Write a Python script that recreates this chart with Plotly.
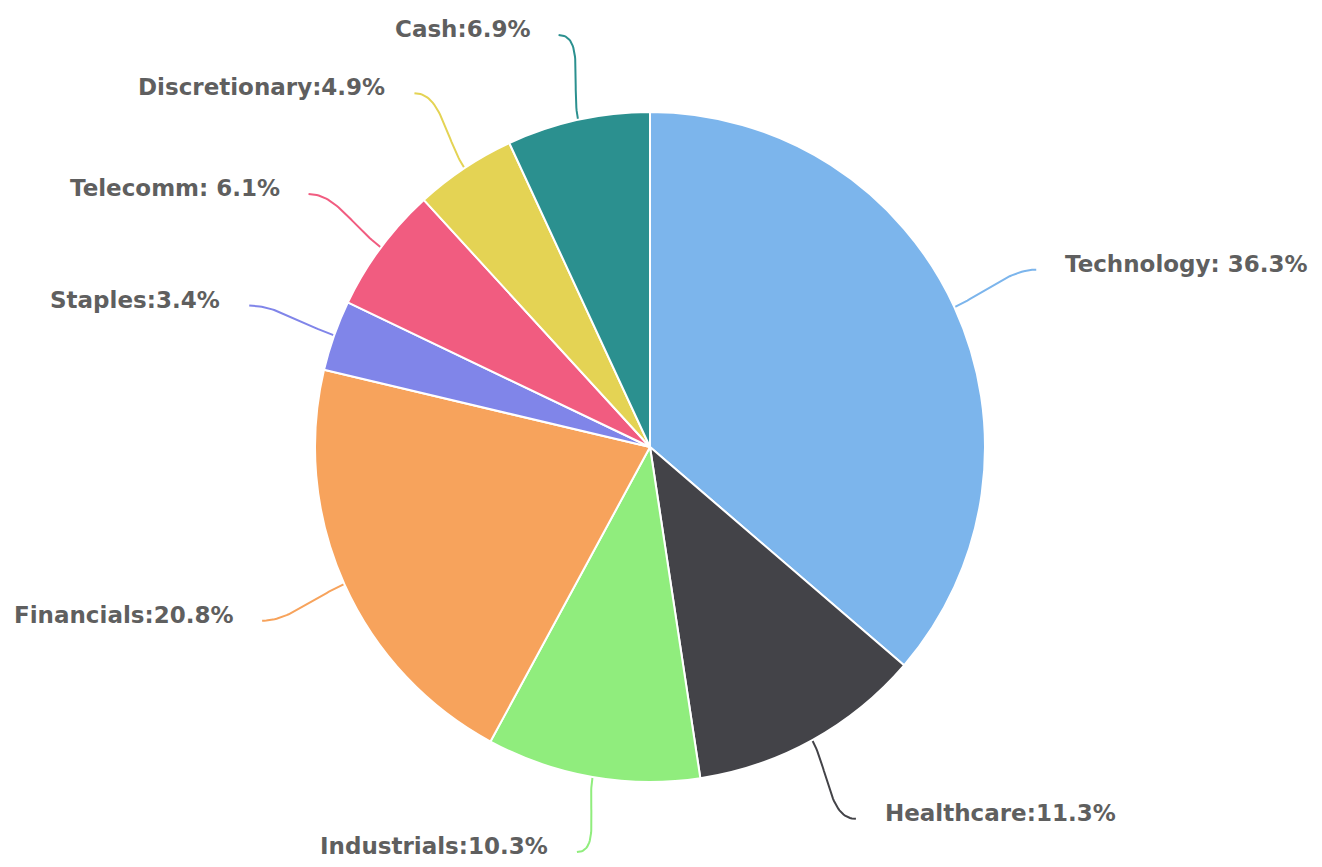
import numpy as np
import plotly.graph_objects as go

# slice data, clockwise from 12 o'clock
sectors = ["Technology", "Healthcare", "Industrials", "Financials",
           "Staples", "Telecomm", "Discretionary", "Cash"]
shares = [36.3, 11.3, 10.3, 20.8, 3.4, 6.1, 4.9, 6.9]
label_texts = ["Technology: 36.3%", "Healthcare:11.3%", "Industrials:10.3%",
               "Financials:20.8%", "Staples:3.4%", "Telecomm: 6.1%",
               "Discretionary:4.9%", "Cash:6.9%"]
colors = ["#7cb5ec", "#434348", "#90ed7d", "#f7a35c",
          "#8085e9", "#f15c80", "#e4d354", "#2b908f"]

W, H = 1322, 867
cx, cy, r = 650, 447, 335      # pie centre / radius in pixels
r_label = 425                  # where connectors end

fig = go.Figure()

fig.add_trace(go.Pie(
    labels=sectors, values=shares, sort=False, direction="clockwise",
    rotation=0, marker=dict(colors=colors, line=dict(color="white", width=2)),
    textinfo="none", hoverinfo="label+percent", showlegend=False,
    domain=dict(x=[(cx - r) / W, (cx + r) / W], y=[1 - (cy + r) / H, 1 - (cy - r) / H]),
))

# connectors + labels, placed from each slice's mid angle
vals = np.array(shares, dtype=float)
mids = (np.cumsum(vals) - vals / 2) / vals.sum() * 2 * np.pi
annotations = []
for name, txt, col, a in zip(sectors, label_texts, colors, mids):
    dx, dy = np.sin(a), -np.cos(a)
    side = 1 if dx >= 0 else -1
    x0, y0 = cx + (r - 2) * dx, cy + (r - 2) * dy
    x3, y3 = cx + r_label * dx, cy + r_label * dy
    y3 = min(max(y3, 35), 852)
    dist = np.hypot(x3 - x0, y3 - y0)
    # cubic: heads roughly straight for the label, bends flat at the end
    x1, y1 = x0 + 0.2 * dist * dx + 0.2 * (x3 - x0), y0 + 0.2 * dist * dy + 0.2 * (y3 - y0)
    x2, y2 = x3 - side * 0.3 * dist, y3
    s = np.linspace(0, 1, 40)
    bx = (1 - s) ** 3 * x0 + 3 * (1 - s) ** 2 * s * x1 + 3 * (1 - s) * s ** 2 * x2 + s ** 3 * x3
    by = (1 - s) ** 3 * y0 + 3 * (1 - s) ** 2 * s * y1 + 3 * (1 - s) * s ** 2 * y2 + s ** 3 * y3
    fig.add_trace(go.Scatter(x=bx, y=by, mode="lines", line=dict(color=col, width=2),
                             hoverinfo="skip", showlegend=False))
    annotations.append(dict(
        x=x3 + side * 27, y=y3 - 6, xref="x", yref="y",
        text=txt, showarrow=False, xanchor="left" if side > 0 else "right", yanchor="middle",
        font=dict(family="DejaVu Sans", size=23, color="#5f5f5f", weight="bold"),
    ))

fig.update_layout(
    width=W, height=H, margin=dict(l=0, r=0, t=0, b=0),
    paper_bgcolor="white", plot_bgcolor="rgba(0,0,0,0)",
    xaxis=dict(range=[0, W], visible=False, fixedrange=True),
    yaxis=dict(range=[H, 0], visible=False, fixedrange=True),
    annotations=annotations,
)

fig.write_html("out.html", config={"displayModeBar": False},
               post_script="document.body.style.margin='0';")
